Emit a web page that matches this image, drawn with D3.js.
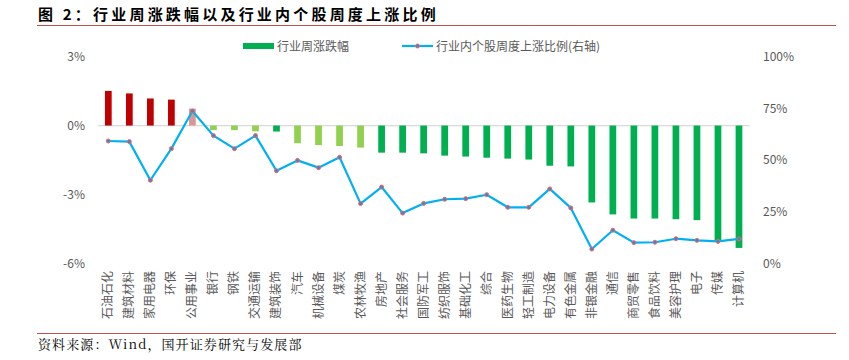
<!DOCTYPE html>
<html><head><meta charset="utf-8">
<script src="https://cdn.jsdelivr.net/npm/d3@7"></script>
<style>body{margin:0;background:#fff;}svg{display:block;}</style>
</head><body>
<svg id="c" width="849" height="360"></svg>
<script>
const categories = ["石油石化","建筑材料","家用电器","环保","公用事业","银行","钢铁","交通运输","建筑装饰","汽车","机械设备","煤炭","农林牧渔","房地产","社会服务","国防军工","纺织服饰","基础化工","综合","医药生物","轻工制造","电力设备","有色金属","非银金融","通信","商贸零售","食品饮料","美容护理","电子","传媒","计算机"];
const weeklyChange = [1.51,1.40,1.18,1.13,0.74,-0.20,-0.20,-0.25,-0.26,-0.77,-0.85,-0.89,-0.96,-1.18,-1.18,-1.21,-1.31,-1.35,-1.40,-1.44,-1.48,-1.75,-1.78,-3.35,-3.87,-4.05,-4.05,-4.08,-4.12,-5.05,-5.33];
const upRatio = [59.2,58.9,40.2,55.5,73.7,61.8,55.5,61.8,44.8,49.8,46.3,51.3,28.9,36.9,24.3,29.0,31.0,31.3,33.2,27.1,27.1,36.0,26.8,6.9,16.0,10.0,10.2,11.9,11.1,10.6,11.8];
const barColorKey = ["r","r","r","r","p","lg","lg","lg","g","lg","lg","lg","lg","g","g","g","g","g","g","g","g","g","g","g","g","g","g","g","g","g","g"];
const leftTicks = [3,0,-3,-6];
const rightTicks = [100,75,50,25,0];
const legendLabels = ["行业周涨跌幅","行业内个股周度上涨比例(右轴)"];

const colorMap = {r:"#C00000", p:"#DA9694", lg:"#92D050", g:"#00B050"};
const svg = d3.select("#c");
const font = "'Microsoft YaHei','Noto Sans CJK SC',sans-serif";

// title
svg.append("text").attr("x",38).attr("y",20).attr("font-family","'Noto Sans CJK SC',sans-serif")
  .attr("font-weight","bold").attr("font-size",15).attr("letter-spacing",3.2).attr("fill","#000").text("图 2：行业周涨跌幅以及行业内个股周度上涨比例");
svg.append("line").attr("x1",37).attr("x2",836).attr("y1",25.5).attr("y2",25.5).attr("stroke","#C0504D").attr("stroke-width",1.2);
svg.append("line").attr("x1",37).attr("x2",836).attr("y1",333.5).attr("y2",333.5).attr("stroke","#C0504D").attr("stroke-width",1.2);
svg.append("text").attr("x",38).attr("y",349).attr("font-family","'Noto Serif CJK SC','Liberation Serif',serif")
  .attr("font-size",13).attr("letter-spacing",1.1).attr("fill","#000").text("资料来源：Wind，国开证券研究与发展部");

const x = d3.scaleBand().domain(categories).range([97.8,749.5]).paddingInner(0.68).paddingOuter(0.34);
const yL = d3.scaleLinear().domain([-6,3]).range([263.3,56.7]);
const yR = d3.scaleLinear().domain([0,100]).range([263.3,56.7]);

// axes labels
const gL = svg.append("g").attr("transform","translate(85,0)")
  .call(d3.axisLeft(yL).tickValues(leftTicks).tickFormat(d=>d+"%").tickSize(0).tickPadding(0));
gL.select(".domain").remove();
gL.selectAll("text").attr("font-family",font).attr("font-size",12).attr("fill","#595959");
const gR = svg.append("g").attr("transform","translate(763,0)")
  .call(d3.axisRight(yR).tickValues(rightTicks).tickFormat(d=>d+"%").tickSize(0).tickPadding(0));
gR.select(".domain").remove();
gR.selectAll("text").attr("font-family",font).attr("font-size",12).attr("fill","#595959");

// zero line
svg.append("line").attr("x1",97.8).attr("x2",749.5).attr("y1",yL(0)).attr("y2",yL(0)).attr("stroke","#D9D9D9").attr("stroke-width",1.2);

// bars
svg.append("g").selectAll("rect").data(categories).join("rect")
  .attr("x",d=>x(d)).attr("width",x.bandwidth())
  .attr("y",(d,i)=>Math.min(yL(0),yL(weeklyChange[i])))
  .attr("height",(d,i)=>Math.abs(yL(weeklyChange[i])-yL(0)))
  .attr("fill",(d,i)=>colorMap[barColorKey[i]]);

// line
const cx = d=>x(d)+x.bandwidth()/2;
const line = d3.line().x((d,i)=>cx(categories[i])).y(d=>yR(d));
svg.append("path").datum(upRatio).attr("d",line).attr("fill","none").attr("stroke","#00B0F0").attr("stroke-width",2.2).attr("stroke-linejoin","round");
svg.append("g").selectAll("circle").data(upRatio).join("circle")
  .attr("cx",(d,i)=>cx(categories[i])).attr("cy",d=>yR(d)).attr("r",2)
  .attr("fill","#4F81BD").attr("stroke","#E46C6C").attr("stroke-width",1);

// category labels (rotated -90, top aligned)
svg.append("g").selectAll("text").data(categories).join("text")
  .attr("transform",d=>`translate(${cx(d)+4},271) rotate(-90)`)
  .attr("text-anchor","end").attr("font-family",font).attr("font-size",12).attr("fill","#595959")
  .text(d=>d);

// legend
svg.append("rect").attr("x",243).attr("y",43).attr("width",31).attr("height",6).attr("fill","#00B050");
svg.append("text").attr("x",277).attr("y",51).attr("font-family",font).attr("font-size",12).attr("fill","#595959").text(legendLabels[0]);
svg.append("line").attr("x1",402).attr("x2",433).attr("y1",46).attr("y2",46).attr("stroke","#00B0F0").attr("stroke-width",2.2);
svg.append("circle").attr("cx",417.5).attr("cy",46).attr("r",2).attr("fill","#4F81BD").attr("stroke","#E46C6C").attr("stroke-width",1);
svg.append("text").attr("x",436).attr("y",51).attr("font-family",font).attr("font-size",12).attr("fill","#595959").text(legendLabels[1]);
</script>
</body></html>
